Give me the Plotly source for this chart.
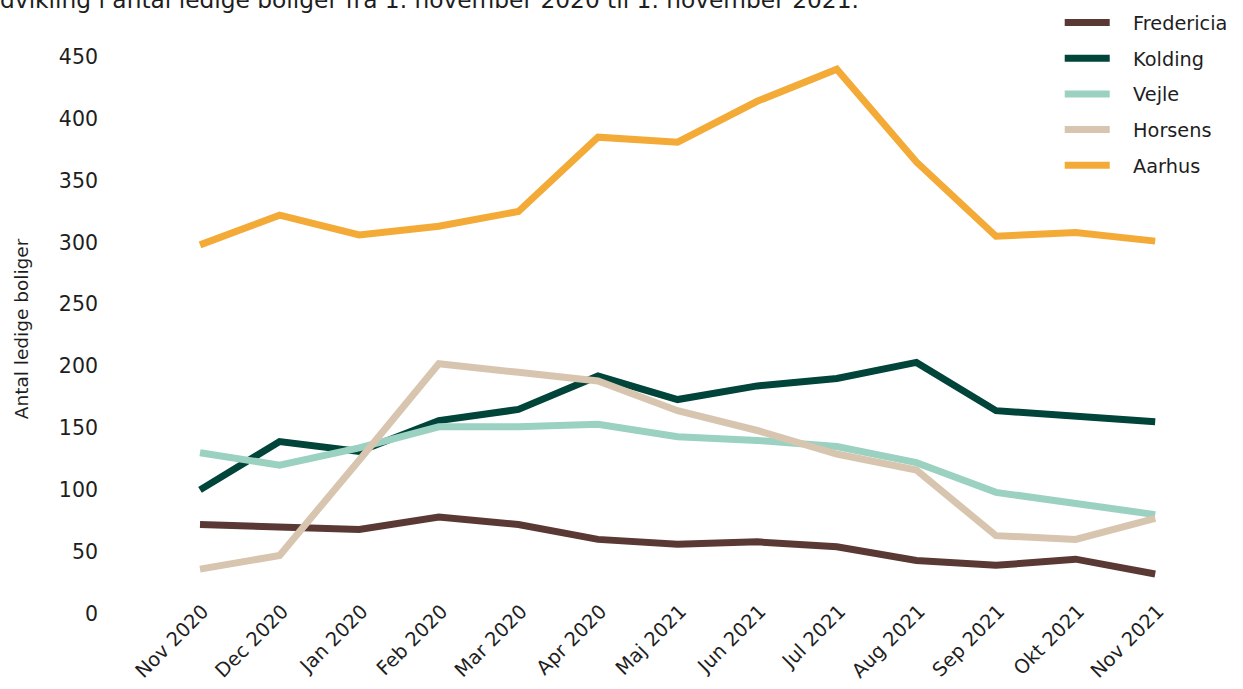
import plotly.graph_objects as go

months = ["Nov 2020", "Dec 2020", "Jan 2020", "Feb 2020", "Mar 2020", "Apr 2020",
          "Maj 2021", "Jun 2021", "Jul 2021", "Aug 2021", "Sep 2021", "Okt 2021", "Nov 2021"]

fredericia = [72, 70, 68, 78, 72, 60, 56, 58, 54, 43, 39, 44, 32]
kolding = [100, 139, 131, 156, 165, 192, 173, 184, 190, 203, 164, 160, 155]
vejle = [130, 120, 134, 151, 151, 153, 143, 140, 135, 122, 98, 89, 80]
horsens = [36, 47, 124, 202, 195, 188, 164, 148, 129, 116, 63, 60, 77]
aarhus = [298, 322, 306, 313, 325, 385, 381, 414, 440, 365, 305, 308, 301]

series = [
    ("Fredericia", fredericia, "#5a3935"),
    ("Kolding", kolding, "#00443a"),
    ("Vejle", vejle, "#9bd1c1"),
    ("Horsens", horsens, "#d8c5af"),
    ("Aarhus", aarhus, "#f4aa37"),
]

FONT = "DejaVu Sans"
TXT = "#1e1e1e"
PAD = "\u00a0\u00a0\u00a0"  # gap between legend line and label

fig = go.Figure()
for name, vals, col in series:
    fig.add_trace(go.Scatter(
        x=months, y=vals, name=PAD + name, mode="lines", legendgroup=name,
        line=dict(color=col, width=7),
    ))

L, R, T, B = 104, 48, 32, 63

fig.update_layout(
    width=1243, height=689,
    margin=dict(l=L, r=R, t=T, b=B, pad=0, autoexpand=False),
    paper_bgcolor="white", plot_bgcolor="white",
    font=dict(family=FONT, color=TXT, size=18),
    showlegend=True,
    legend=dict(
        x=0.876, y=1.048, xanchor="left", yanchor="top",
        font=dict(size=19.3, family=FONT, color=TXT),
        tracegroupgap=7.6, itemwidth=45, bgcolor="rgba(0,0,0,0)",
    ),
    xaxis=dict(
        type="category", range=[-1.206, 12.5], automargin=False,
        showgrid=False, zeroline=False, showline=False, ticks="",
        tickangle=-45, tickfont=dict(size=19.5, family=FONT, color=TXT),
        ticklabelshift=3, ticklabelstandoff=-31,
    ),
    yaxis=dict(
        range=[-10, 470], tickvals=[0, 50, 100, 150, 200, 250, 300, 350, 400, 450],
        automargin=False,
        showgrid=False, zeroline=False, showline=False, ticks="",
        tickfont=dict(size=20.5, family=FONT, color=TXT), ticklabelstandoff=5,
        title=dict(text="Antal ledige boliger", font=dict(size=18.5, family=FONT, color=TXT), standoff=25),
    ),
)

fig.add_annotation(
    text="Udvikling i antal ledige boliger fra 1. november 2020 til 1. november 2021.",
    xref="paper", yref="paper", x=-0.1115, y=1.030, xanchor="left", yanchor="bottom",
    showarrow=False, font=dict(size=23.3, family=FONT, color=TXT), borderpad=0,
)

fig.write_html("out.html", config={"displayModeBar": False},
               post_script="document.body.style.margin='0';")
